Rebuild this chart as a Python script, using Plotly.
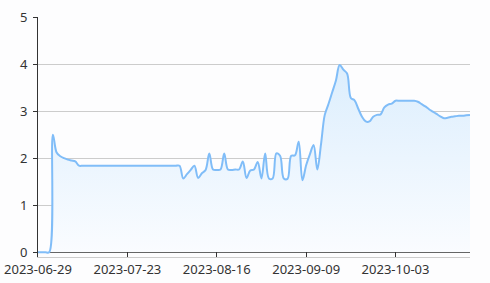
import plotly.graph_objects as go
import pandas as pd

dates = pd.date_range("2023-06-29", "2023-10-23", freq="D").strftime("%Y-%m-%d").tolist()

values = [
    0, 0, 0, 0, 2.5, 2.12, 2.04, 2.0, 1.97, 1.95,
    1.93, 1.84, 1.84, 1.84, 1.84, 1.84, 1.84, 1.84, 1.84, 1.84,
    1.84, 1.84, 1.84, 1.84, 1.84, 1.84, 1.84, 1.84, 1.84, 1.84,
    1.84, 1.84, 1.84, 1.84, 1.84, 1.84, 1.84, 1.84, 1.84, 1.57,
    1.66, 1.75, 1.84, 1.58, 1.68, 1.75, 2.1, 1.76, 1.75, 1.76,
    2.1, 1.76, 1.75, 1.76, 1.76, 1.93, 1.58, 1.74, 1.76, 1.92,
    1.57, 2.1, 1.57, 1.57, 2.1, 2.05, 1.57, 1.56, 2.05, 2.06,
    2.35, 1.53, 1.85, 2.08, 2.28, 1.76, 2.3, 2.92, 3.15, 3.4,
    3.65, 3.98, 3.88, 3.8, 3.28, 3.23, 3.05, 2.88, 2.78, 2.78,
    2.88, 2.92, 2.93, 3.08, 3.14, 3.16, 3.22, 3.22, 3.22, 3.22,
    3.22, 3.22, 3.2, 3.15, 3.1, 3.04, 2.99, 2.94, 2.89, 2.85,
    2.86, 2.88, 2.89, 2.9, 2.9, 2.91, 2.92,
]

tick_labels = ["2023-06-29", "2023-07-23", "2023-08-16", "2023-09-09", "2023-10-03"]
y_ticks = [0, 1, 2, 3, 4, 5]

font_family = "Noto Sans"
text_color = "#333333"

fig = go.Figure()
fig.add_trace(go.Scatter(
    x=dates, y=values, mode="lines",
    line=dict(color="#80bdf8", width=2, shape="spline", smoothing=1.0),
    fill="tozeroy",
    fillgradient=dict(type="vertical",
                      colorscale=[[0, "rgba(250,252,255,1)"], [1, "rgba(220,238,253,1)"]]),
    hoverinfo="skip",
))

fig.update_layout(
    width=490, height=283,
    margin=dict(l=38, r=20, t=17, b=26),
    paper_bgcolor="#fdfdfe", plot_bgcolor="#fdfdfe",
    showlegend=False,
    font=dict(family=font_family, size=13, color=text_color),
)
fig.update_xaxes(
    type="date",
    range=[dates[0], dates[-1]],
    tickvals=tick_labels, ticktext=tick_labels,
    ticks="inside", ticklen=5, tickcolor="#333333",
    showline=True, linecolor="#cccccc", linewidth=1,
    showgrid=False, zeroline=False, automargin=False,
    tickfont=dict(family=font_family, size=13, color=text_color),
)
fig.update_yaxes(
    range=[-0.1, 5],
    tickvals=y_ticks,
    ticks="outside", ticklen=4, tickcolor="#333333",
    showline=True, linecolor="#333333", linewidth=1,
    showgrid=True, gridcolor="#cccccc", gridwidth=1,
    zeroline=True, zerolinecolor="#333333", zerolinewidth=1,
    ticklabelstandoff=3, automargin=False,
    tickfont=dict(family=font_family, size=13, color=text_color),
)

fig.write_html("out.html")
